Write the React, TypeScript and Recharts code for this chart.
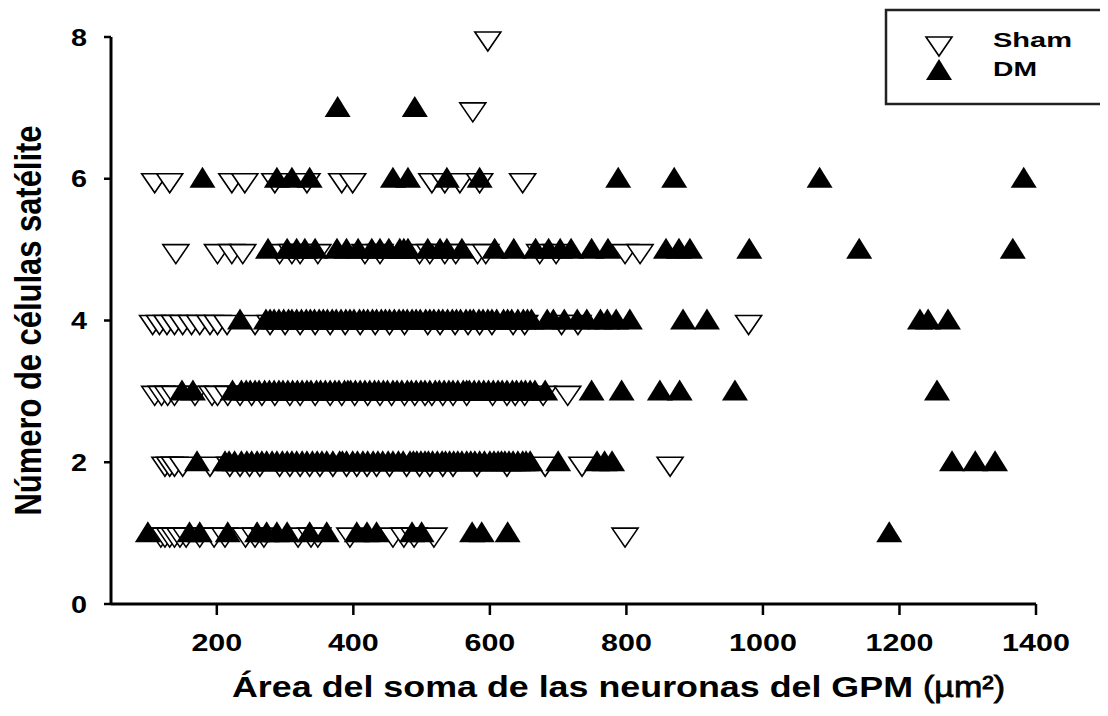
import { ScatterChart, Scatter, XAxis, YAxis, Label, Customized } from 'recharts';

const FONT = '"Liberation Sans", Arial, Helvetica, sans-serif';

// soma area (µm²) of each neuron, grouped by its number of satellite cells
const sham1 = [118, 124, 131, 138, 146, 155, 175, 196, 212, 242, 256, 269, 319, 338, 348, 395, 458, 474, 489, 518, 798];
const sham2 = [124, 131, 138, 150, 190, 219, 234, 248, 263, 292, 307, 322, 336, 351, 370, 390, 405, 420, 434, 453, 478, 497, 512, 531, 546, 581, 625, 681, 735, 864];
const sham3 = [109, 119, 128, 138, 168, 193, 201, 216, 234, 251, 266, 285, 307, 322, 344, 366, 383, 402, 421, 439, 456, 475, 490, 505, 515, 531, 546, 566, 604, 625, 637, 651, 678, 714];
const sham4 = [106, 116, 127, 138, 150, 163, 175, 190, 201, 215, 256, 278, 300, 322, 344, 366, 388, 410, 432, 453, 475, 509, 527, 549, 568, 585, 603, 634, 651, 705, 729, 979];
const sham5 = [140, 201, 222, 238, 292, 310, 322, 348, 417, 439, 497, 512, 534, 550, 582, 594, 673, 697, 798, 820];
const sham6 = [109, 131, 222, 241, 285, 332, 383, 399, 515, 534, 556, 585, 648];
const sham7 = [575];
const sham8 = [597];

const dm1 = [99, 160, 175, 216, 259, 273, 288, 303, 336, 361, 405, 420, 434, 486, 500, 574, 588, 626, 1185];
const dm2 = [
  171, 212, 218, 226, 236, 244, 251, 259, 266, 273, 281, 288, 296, 303, 310, 317, 325, 332, 340, 347, 354, 361,
  370, 380, 384, 390, 399, 406, 414, 421, 429, 436, 443, 451, 458, 466, 473, 483, 488, 493, 499, 505, 510, 516,
  523, 530, 535, 541, 547, 553, 559, 566, 572, 578, 585, 592, 600, 606, 612, 617, 622, 628, 634, 641, 648, 653,
  659, 700, 757, 768, 779, 1277, 1311, 1340,
];
const dm3 = [
  149, 165, 223, 236, 243, 249, 256, 262, 270, 277, 284, 291, 297, 304, 311, 318, 325, 332, 338, 346, 352, 359,
  366, 373, 379, 387, 392, 396, 403, 410, 417, 424, 431, 437, 444, 450, 458, 464, 471, 479, 485, 492, 499, 505,
  512, 520, 526, 533, 540, 546, 553, 561, 566, 570, 577, 584, 591, 598, 605, 612, 618, 625, 633, 639, 646, 652,
  659, 666, 681, 749, 793, 849, 878, 959, 1255,
];
const dm4 = [
  234, 272, 278, 284, 291, 298, 305, 310, 317, 324, 331, 337, 343, 350, 356, 362, 369, 375, 382, 389, 395, 401,
  409, 415, 421, 428, 434, 441, 447, 453, 460, 467, 473, 479, 486, 492, 498, 506, 512, 518, 525, 531, 538, 545,
  551, 557, 565, 571, 576, 584, 590, 597, 603, 610, 620, 626, 632, 641, 649, 655, 661, 684, 693, 709, 728, 742,
  762, 772, 785, 805, 883, 918, 1230, 1242, 1271,
];
const dm5 = [275, 303, 317, 329, 344, 376, 390, 407, 427, 439, 452, 468, 474, 480, 509, 527, 537, 559, 607, 635, 667, 686, 703, 719, 749, 773, 858, 877, 893, 980, 1141, 1366];
const dm6 = [179, 288, 310, 336, 458, 480, 537, 585, 788, 870, 1083, 1382];
const dm7 = [377, 490];

const shamCounts = [1, 2, 3, 4, 5, 6, 7, 8];
const dmCounts = [1, 2, 3, 4, 5, 6, 7];
const shamRows = [sham1, sham2, sham3, sham4, sham5, sham6, sham7, sham8];
const dmRows = [dm1, dm2, dm3, dm4, dm5, dm6, dm7];

const xTicks = [200, 400, 600, 800, 1000, 1200, 1400];
const yTicks = [0, 2, 4, 6, 8];

const toPoints = (rows: number[][], counts: number[]) =>
  rows.flatMap((areas, i) => areas.map((area) => ({ area, cells: counts[i] })));

const shamData = toPoints(shamRows, shamCounts);
const dmData = toPoints(dmRows, dmCounts);

function TriangleUp(props: any) {
  const { cx, cy } = props;
  if (cx == null || cy == null) return null;
  return <polygon points={`${cx - 13},${cy + 9} ${cx + 13},${cy + 9} ${cx},${cy - 12}`} fill="#000" />;
}

function TriangleDown(props: any) {
  const { cx, cy } = props;
  if (cx == null || cy == null) return null;
  return (
    <polygon
      points={`${cx - 13},${cy - 5} ${cx + 13},${cy - 5} ${cx},${cy + 14}`}
      fill="#fff"
      stroke="#000"
      strokeWidth={1.6}
    />
  );
}

function XTick({ x, y, payload }: any) {
  return (
    <g transform={`translate(${x},${y}) scale(1.27,1)`}>
      <text x={0} y={0} dy="0.71em" textAnchor="middle" fill="#000" fontSize={24} fontWeight="bold" fontFamily={FONT}>
        {payload.value}
      </text>
    </g>
  );
}

function YTick({ x, y, payload }: any) {
  return (
    <g transform={`translate(${x},${y}) scale(1.2,1)`}>
      <text x={0} y={0} dy="0.355em" textAnchor="end" fill="#000" fontSize={24} fontWeight="bold" fontFamily={FONT}>
        {payload.value}
      </text>
    </g>
  );
}

function XTitle({ viewBox }: any) {
  const x = viewBox.x + 121;
  const y = viewBox.y + 93;
  return (
    <g fill="#000" fontFamily={FONT} fontSize={30}>
      <text x={x} y={y} fontWeight="bold" textLength={681} lengthAdjust="spacingAndGlyphs">
        Área del soma de las neuronas del GPM
      </text>
      <text x={x + 691} y={y} stroke="#000" strokeWidth={0.8} textLength={82} lengthAdjust="spacingAndGlyphs">
        (µm²)
      </text>
    </g>
  );
}

function YTitle({ viewBox }: any) {
  const cy = viewBox.y + viewBox.height / 2;
  return (
    <g transform={`translate(${viewBox.x + 41},${cy}) scale(1.22,1) rotate(-90)`}>
      <text x={0} y={0} textAnchor="middle" fill="#000" fontSize={31} fontWeight="bold" fontFamily={FONT} textLength={390} lengthAdjust="spacingAndGlyphs">
        Número de células satélite
      </text>
    </g>
  );
}

const legendItems = [
  { name: 'Sham', Shape: TriangleDown, cy: 37, textLength: 79 },
  { name: 'DM', Shape: TriangleUp, cy: 66, textLength: 44 },
];

function LegendBox() {
  return (
    <g transform="translate(885,5)">
      <path d="M1,5 H219 V99 H1 Z" fill="#fff" stroke="#222" strokeWidth={2.5} />
      {legendItems.map(({ name, Shape, cy, textLength }) => (
        <g key={name}>
          <Shape cx={54} cy={cy} />
          <text x={108} y={cy + 5} fill="#000" fontSize={21} fontWeight="bold" fontFamily={FONT} textLength={textLength} lengthAdjust="spacingAndGlyphs">
            {name}
          </text>
        </g>
      ))}
    </g>
  );
}

export default function App() {
  // cancel the body margin so the chart fills the 1108x716 window exactly
  return (
    <div style={{ margin: -8 }}>
      <ScatterChart width={1108} height={716} margin={{ top: 37, right: 72, bottom: 0, left: 0 }}>
        <XAxis
          type="number"
          dataKey="area"
          domain={[45, 1400]}
          ticks={xTicks}
          interval={0}
          height={112}
          axisLine={{ stroke: '#000', strokeWidth: 3 }}
          tickLine={{ stroke: '#000', strokeWidth: 2.5 }}
          tickSize={11}
          tickMargin={19}
          tick={XTick}
        >
          <Label content={XTitle} />
        </XAxis>
        <YAxis
          type="number"
          dataKey="cells"
          domain={[0, 8]}
          ticks={yTicks}
          interval={0}
          width={111}
          axisLine={{ stroke: '#000', strokeWidth: 3 }}
          tickLine={{ stroke: '#000', strokeWidth: 2.5 }}
          tickSize={7}
          tickMargin={17}
          tick={YTick}
        >
          <Label content={YTitle} />
        </YAxis>
        <Scatter name="Sham" data={shamData} shape={TriangleDown} isAnimationActive={false} />
        <Scatter name="DM" data={dmData} shape={TriangleUp} isAnimationActive={false} />
        <Customized component={LegendBox} />
      </ScatterChart>
    </div>
  );
}
